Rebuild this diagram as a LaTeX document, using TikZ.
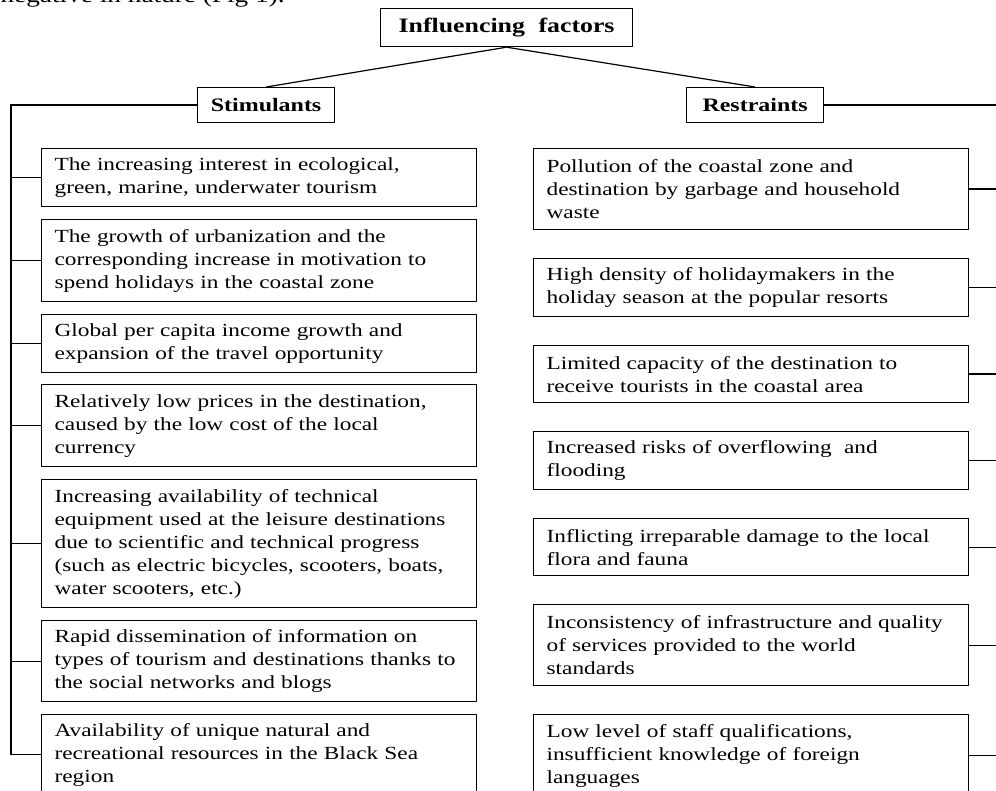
\documentclass[tikz,border=0pt]{standalone}
\usepackage{fontspec}
\setmainfont{Liberation Serif}[FakeStretch=1.26,WordSpace=2.1]
\newfontfamily\plainfont{Liberation Serif}[FakeStretch=1.24]
\usetikzlibrary{positioning}

\tikzset{
  factor/.style={draw, anchor=north west, align=left, inner xsep=13pt, inner ysep=0pt,
    text width=409pt, font=\fontsize{18.5}{23}\selectfont},
  head/.style={draw, anchor=north west, inner sep=0pt,
    font=\bfseries\fontsize{19}{23}\selectfont},
}

\begin{document}
\begin{tikzpicture}[x=1pt, y=-1pt, line width=1.2pt]
  \useasboundingbox (0,0) rectangle (996,791);
  \node[anchor=base west, inner sep=0pt, font=\plainfont\fontsize{22}{26}\selectfont] (prev) at (0,3) {negative in nature (Fig 1).};
  \node[head, minimum width=252pt, minimum height=38pt, font=\bfseries\fontsize{20.5}{25}\selectfont] (root) at (380,8) {Influencing factors};
  \node[head, minimum width=137pt, minimum height=35pt] (stim) at (197,87) {Stimulants};
  \node[head, minimum width=137pt, minimum height=35pt] (restr) at (686,87) {Restraints};
  % stimulants
  \node[factor, minimum height=58pt] (s1) at (41,148) {The increasing interest in ecological,\\ green, marine, underwater tourism};
  \node[factor, minimum height=82pt] (s2) at (41,219) {The growth of urbanization and the\\ corresponding increase in motivation to\\ spend holidays in the coastal zone};
  \node[factor, minimum height=58pt] (s3) at (41,314) {Global per capita income growth and\\ expansion of the travel opportunity};
  \node[factor, minimum height=82pt] (s4) at (41,384) {Relatively low prices in the destination,\\ caused by the low cost of the local\\ currency};
  \node[factor, minimum height=128pt] (s5) at (41,479) {Increasing availability of technical\\ equipment used at the leisure destinations\\ due to scientific and technical progress\\ (such as electric bicycles, scooters, boats,\\ water scooters, etc.)};
  \node[factor, minimum height=81pt] (s6) at (41,620) {Rapid dissemination of information on\\ types of tourism and destinations thanks to\\ the social networks and blogs};
  \node[factor, minimum height=80pt] (s7) at (41,714) {Availability of unique natural and\\ recreational resources in the Black Sea\\ region};
  % restraints
  \node[factor, minimum height=81pt] (r1) at (533,148) {Pollution of the coastal zone and\\ destination by garbage and household\\ waste};
  \node[factor, minimum height=58pt] (r2) at (533,258) {High density of holidaymakers in the\\ holiday season at the popular resorts};
  \node[factor, minimum height=57pt] (r3) at (533,345) {Limited capacity of the destination to\\ receive tourists in the coastal area};
  \node[factor, minimum height=58pt] (r4) at (533,431) {Increased risks of overflowing\ \ and\\ flooding};
  \node[factor, minimum height=57pt] (r5) at (533,518) {Inflicting irreparable damage to the local\\ flora and fauna};
  \node[factor, minimum height=81pt] (r6) at (533,604) {Inconsistency of infrastructure and quality\\ of services provided to the world\\ standards};
  \node[factor, minimum height=82pt] (r7) at (533,714) {Low level of staff qualifications,\\ insufficient knowledge of foreign\\ languages};
  \coordinate (lbus) at (11,0);
  \coordinate (rbus) at (998,0);
  \path
  (root.south) edge (stim.north)
  (root.south) edge (restr.north)
  ;
  \draw (stim.west) -- (stim.west -| lbus) -- (s7.west -| lbus);
  \draw (restr.east) -- (restr.east -| rbus) -- (r7.east -| rbus);
  \foreach \n in {1,...,7} {
    \draw (s\n.west) -- (s\n.west -| lbus);
    \draw (r\n.east) -- (r\n.east -| rbus);
  }
\end{tikzpicture}
\end{document}
